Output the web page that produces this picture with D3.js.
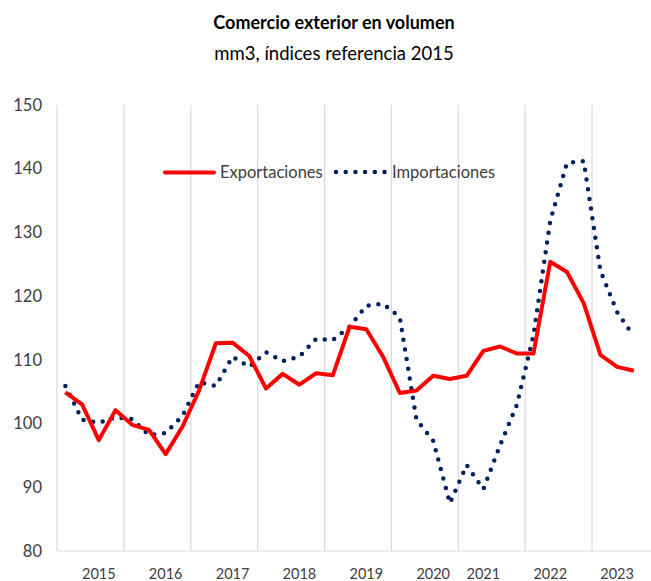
<!DOCTYPE html>
<html>
<head>
<meta charset="utf-8">
<script src="https://cdn.jsdelivr.net/npm/d3@7"></script>
<style>
  body { margin: 0; background: #fff; }
  svg { display: block; font-family: Lato, "Open Sans", sans-serif; }
</style>
</head>
<body>
<svg id="chart" width="651" height="581"></svg>
<script>
// quarters, base 2015
const quarters = [];
["2015","2016","2017","2018","2019","2020","2021","2022","2023"].forEach(y => {
  ["T1","T2","T3","T4"].forEach(q => quarters.push(y + "-" + q));
});

const exportaciones = [104.9, 103.0, 97.4, 102.1, 99.8, 99.0, 95.2, 99.5, 105.2, 112.6,
  112.7, 110.6, 105.5, 107.8, 106.1, 107.9, 107.6, 115.2, 114.8, 110.5,
  104.8, 105.2, 107.5, 107.0, 107.5, 111.4, 112.1, 111.0, 111.0, 125.4,
  123.8, 118.9, 110.8, 108.9, 108.3];

const importaciones = [105.9, 100.6, 100.1, 101.0, 100.7, 98.2, 98.5, 101.2, 106.5, 105.9,
  110.5, 108.9, 111.2, 109.8, 110.5, 113.3, 113.1, 115.2, 118.5, 118.8,
  116.7, 100.6, 97.3, 87.5, 93.5, 89.7, 96.6, 102.9, 113.9, 131.8,
  140.9, 141.2, 124.0, 117.5, 113.7];

// where each year label sits on the category axis
const yearLabels = ["2015", "2016", "2017", "2018", "2019", "2020", "2021", "2022", "2023"];
const yearLabelAt = ["2015-T3", "2016-T3", "2017-T3", "2018-T3", "2019-T3", "2020-T3", "2021-T2", "2022-T2", "2023-T2"];

const yTicks = [80, 90, 100, 110, 120, 130, 140, 150];

const svg = d3.select("#chart");
const plotLeft = 57, plotBottom = 551, plotTop = 105;
const bandW = 16.72;

const x = d3.scaleBand()
  .domain(quarters)
  .range([plotLeft, plotLeft + quarters.length * bandW])
  .paddingInner(0).paddingOuter(0);

const y = d3.scaleLinear().domain([80, 150]).range([plotBottom, plotTop]);

// title
svg.append("text")
  .attr("x", 334).attr("y", 29)
  .attr("text-anchor", "middle")
  .attr("font-size", 18).attr("font-weight", "bold")
  .attr("fill", "#000")
  .text("Comercio exterior en volumen");

svg.append("text")
  .attr("x", 334).attr("y", 60)
  .attr("text-anchor", "middle")
  .attr("font-size", 18.5)
  .attr("fill", "#000")
  .text("mm3, índices referencia 2015");

// vertical year gridlines
const gridQ = quarters.filter((q, i) => i % 4 === 0);
svg.append("g").selectAll("line")
  .data(gridQ)
  .enter().append("line")
  .attr("x1", d => x(d)).attr("x2", d => x(d))
  .attr("y1", plotTop).attr("y2", plotBottom)
  .style("stroke", "#d9d9d9").style("stroke-width", 1.2);

// bottom axis line
svg.append("line")
  .attr("x1", plotLeft).attr("x2", x.range()[1])
  .attr("y1", plotBottom).attr("y2", plotBottom)
  .style("stroke", "#d9d9d9").style("stroke-width", 1.2);

// y labels
svg.append("g").selectAll("text")
  .data(yTicks)
  .enter().append("text")
  .attr("x", 42)
  .attr("y", d => y(d))
  .attr("dy", "0.35em")
  .attr("text-anchor", "end")
  .attr("font-size", 16.5)
  .attr("fill", "#404040")
  .text(d => d);

// x labels
svg.append("g").selectAll("text")
  .data(yearLabels)
  .enter().append("text")
  .attr("x", (d, i) => x(yearLabelAt[i]) + x.bandwidth() / 2)
  .attr("y", 579)
  .attr("text-anchor", "middle")
  .attr("font-size", 14.5)
  .attr("fill", "#404040")
  .text(d => d);

const line = d3.line()
  .x((d, i) => x(quarters[i]) + x.bandwidth() / 2)
  .y(d => y(d));

svg.append("path")
  .datum(importaciones)
  .attr("d", line)
  .style("fill", "none")
  .style("stroke", "#002060")
  .style("stroke-width", 4.5)
  .style("stroke-linecap", "round")
  .style("stroke-dasharray", "0,9.8");

svg.append("path")
  .datum(exportaciones)
  .attr("d", line)
  .style("fill", "none")
  .style("stroke", "#ff0000")
  .style("stroke-width", 4)
  .style("stroke-linejoin", "round");

// legend
const legend = svg.append("g");
legend.append("line")
  .attr("x1", 165).attr("x2", 214).attr("y1", 172.5).attr("y2", 172.5)
  .style("stroke", "#ff0000").style("stroke-width", 4).style("stroke-linecap", "round");
legend.append("text")
  .attr("x", 220).attr("y", 172.5).attr("dy", "0.35em")
  .attr("font-size", 16.5).attr("fill", "#404040")
  .text("Exportaciones");
legend.append("line")
  .attr("x1", 336).attr("x2", 385).attr("y1", 172).attr("y2", 172)
  .style("stroke", "#002060").style("stroke-width", 4.5)
  .style("stroke-linecap", "round").style("stroke-dasharray", "0,9.7");
legend.append("text")
  .attr("x", 392).attr("y", 172.5).attr("dy", "0.35em")
  .attr("font-size", 16.5).attr("fill", "#404040")
  .text("Importaciones");
</script>
</body>
</html>
